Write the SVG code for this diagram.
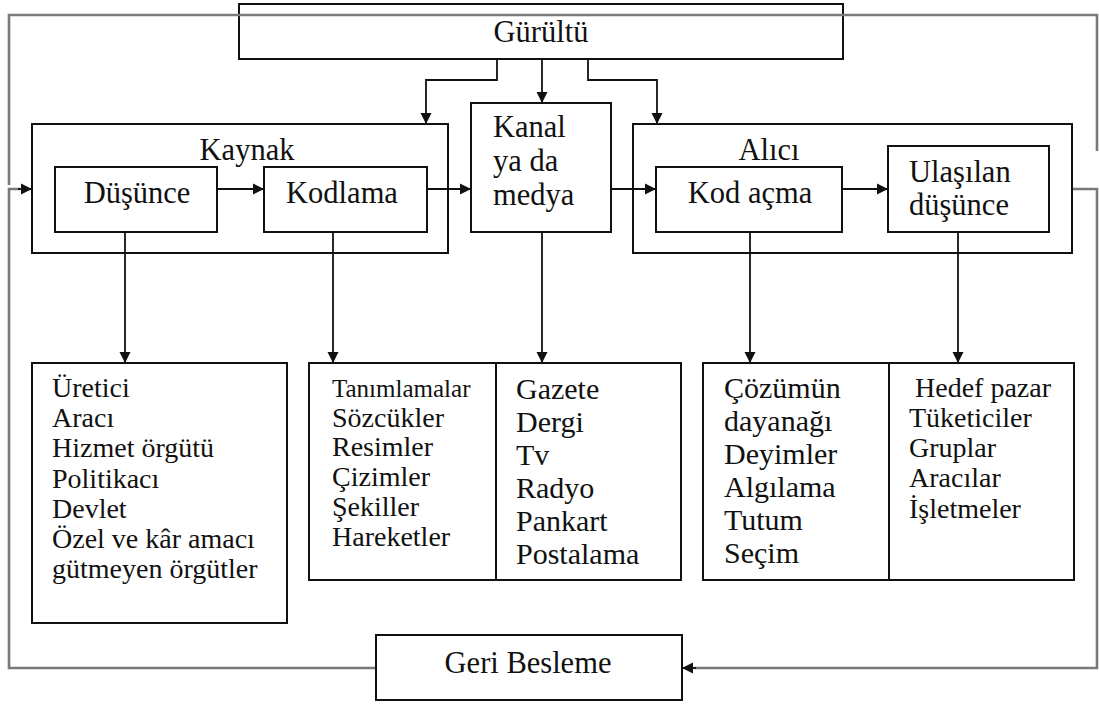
<svg xmlns="http://www.w3.org/2000/svg" width="1099" height="704" viewBox="0 0 1099 704">
  <style>
    .box { fill: #fff; stroke: #111; stroke-width: 2; }
    .frame { fill: none; stroke: #111; stroke-width: 2; }
    .t { font-family: 'Liberation Serif', 'Times New Roman', Times, serif; font-size: 28px; fill: #111; }
    .c { text-anchor: middle; }
    .big { font-size: 30px; }
    .head { font-size: 30.5px; }
    .small { font-size: 25px; }
    .edge { fill: none; stroke: #111; stroke-width: 1.8; }
    .loop { fill: none; stroke: #7a7a7a; stroke-width: 2.6; }
  </style>
  <defs>
    <marker id="arrow" markerUnits="userSpaceOnUse" markerWidth="12" markerHeight="12" refX="11" refY="6" orient="auto">
      <path d="M0,0.5 L11,6 L0,11.5 z" fill="#111"/>
    </marker>
  </defs>
  <rect width="1099" height="704" fill="#fff"/>

  <g id="gurultu">
    <rect class="box" x="239" y="4" width="604" height="55"/>
    <text class="t c head" x="541" y="42">Gürültü</text>
  </g>

  <!-- feedback loop and noise frame -->
  <g id="connectors">
    <path class="loop" d="M9,185 V15 H1097 V151"/>
    <path class="loop" d="M376,668 H9 V189 H20"/>
    <path class="edge" d="M18,189 H32" marker-end="url(#arrow)"/>
    <path class="loop" d="M1072,189 H1097 V668 H694"/>
    <path class="edge" d="M696,668 H682" marker-end="url(#arrow)"/>

    <!-- noise arrows -->
    <path class="edge" d="M497,59 V80 H426 V124" marker-end="url(#arrow)"/>
    <path class="edge" d="M542,59 V103" marker-end="url(#arrow)"/>
    <path class="edge" d="M588,59 V80 H657 V124" marker-end="url(#arrow)"/>

    <!-- main flow -->
    <path class="edge" d="M217,189 H264" marker-end="url(#arrow)"/>
    <path class="edge" d="M427,189 H471" marker-end="url(#arrow)"/>
    <path class="edge" d="M611,189 H656" marker-end="url(#arrow)"/>
    <path class="edge" d="M842,189 H888" marker-end="url(#arrow)"/>

    <!-- detail arrows -->
    <path class="edge" d="M125,232 V363" marker-end="url(#arrow)"/>
    <path class="edge" d="M333,232 V363" marker-end="url(#arrow)"/>
    <path class="edge" d="M542,232 V363" marker-end="url(#arrow)"/>
    <path class="edge" d="M750,232 V363" marker-end="url(#arrow)"/>
    <path class="edge" d="M958,232 V363" marker-end="url(#arrow)"/>
  </g>

  <g id="kaynak">
    <rect class="frame" x="32" y="124" width="416" height="129"/>
    <text class="t c head" x="247" y="160">Kaynak</text>
  </g>
  <g id="dusunce">
    <rect class="box" x="55" y="167" width="162" height="65"/>
    <text class="t c head" x="137" y="203">Düşünce</text>
  </g>
  <g id="kodlama">
    <rect class="box" x="264" y="167" width="163" height="65"/>
    <text class="t c head" x="342" y="203">Kodlama</text>
  </g>

  <g id="kanal">
    <rect class="box" x="471" y="103" width="140" height="129"/>
    <text class="t head" x="493" y="137">Kanal</text>
    <text class="t head" x="493" y="171">ya da</text>
    <text class="t head" x="493" y="205">medya</text>
  </g>

  <g id="alici">
    <rect class="frame" x="633" y="124" width="439" height="129"/>
    <text class="t c head" x="769" y="160">Alıcı</text>
  </g>
  <g id="kod-acma">
    <rect class="box" x="656" y="167" width="186" height="65"/>
    <text class="t c head" x="750" y="203">Kod açma</text>
  </g>
  <g id="ulasilan">
    <rect class="box" x="888" y="146" width="161" height="86"/>
    <text class="t head" x="909" y="182">Ulaşılan</text>
    <text class="t head" x="909" y="215">düşünce</text>
  </g>

  <g id="kaynak-turleri">
    <rect class="box" x="32" y="363" width="255" height="260"/>
    <text class="t" x="52" y="397">Üretici</text>
    <text class="t" x="52" y="427">Aracı</text>
    <text class="t" x="52" y="457">Hizmet örgütü</text>
    <text class="t" x="52" y="488">Politikacı</text>
    <text class="t" x="52" y="518">Devlet</text>
    <text class="t" x="52" y="548">Özel ve kâr amacı</text>
    <text class="t" x="52" y="578">gütmeyen örgütler</text>
  </g>

  <g id="kodlama-araclari">
    <rect class="box" x="309" y="363" width="187" height="217"/>
    <text class="t small" x="332" y="397">Tanımlamalar</text>
    <text class="t" x="332" y="427">Sözcükler</text>
    <text class="t" x="332" y="456">Resimler</text>
    <text class="t" x="332" y="486">Çizimler</text>
    <text class="t" x="332" y="516">Şekiller</text>
    <text class="t" x="332" y="546">Hareketler</text>
  </g>

  <g id="medya-turleri">
    <rect class="box" x="496" y="363" width="185" height="217"/>
    <text class="t big" x="516" y="399">Gazete</text>
    <text class="t big" x="516" y="432">Dergi</text>
    <text class="t big" x="516" y="465">Tv</text>
    <text class="t big" x="516" y="498">Radyo</text>
    <text class="t big" x="516" y="531">Pankart</text>
    <text class="t big" x="516" y="564">Postalama</text>
  </g>

  <g id="kod-acma-unsurlari">
    <rect class="box" x="703" y="363" width="186" height="217"/>
    <text class="t big" x="724" y="398">Çözümün</text>
    <text class="t big" x="724" y="431">dayanağı</text>
    <text class="t big" x="724" y="464">Deyimler</text>
    <text class="t big" x="724" y="497">Algılama</text>
    <text class="t big" x="724" y="530">Tutum</text>
    <text class="t big" x="724" y="563">Seçim</text>
  </g>

  <g id="hedef">
    <rect class="box" x="889" y="363" width="185" height="217"/>
    <text class="t" x="915" y="397">Hedef pazar</text>
    <text class="t" x="909" y="427">Tüketiciler</text>
    <text class="t" x="909" y="457">Gruplar</text>
    <text class="t" x="909" y="487">Aracılar</text>
    <text class="t" x="909" y="518">İşletmeler</text>
  </g>

  <g id="geri-besleme">
    <rect class="box" x="376" y="635" width="306" height="65"/>
    <text class="t c head" x="528" y="673">Geri Besleme</text>
  </g>
</svg>
